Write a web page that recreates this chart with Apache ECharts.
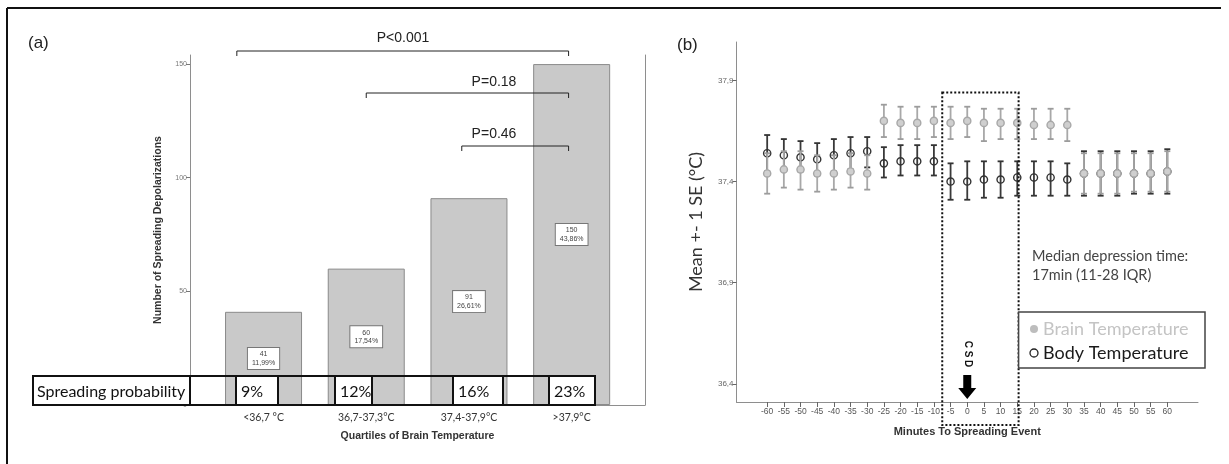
<!DOCTYPE html>
<html><head><meta charset="utf-8">
<script src="https://cdn.jsdelivr.net/npm/echarts@6/dist/echarts.min.js"></script>
<style>html,body{margin:0;padding:0;background:#fff}#c{width:1229px;height:464px}</style>
</head><body><div id="c"></div>
<script>
// ---------- Panel (a) data ----------
const quartiles = ['<36,7 °C', '36,7-37,3°C', '37,4-37,9°C', '>37,9°C'];
const sdCounts = [41, 60, 91, 150];
const sdPercents = ['11,99%', '17,54%', '26,61%', '43,86%'];
const spreadProb = ['9%', '12%', '16%', '23%'];
const countTicks = [0, 50, 100, 150];
const pValues = ['P<0.001', 'P=0.18', 'P=0.46'];

// ---------- Panel (b) data ----------
const minutes = [-60,-55,-50,-45,-40,-35,-30,-25,-20,-15,-10,-5,0,5,10,15,20,25,30,35,40,45,50,55,60];
const brainMean = [37.44,37.46,37.46,37.44,37.44,37.45,37.44,37.70,37.69,37.69,37.70,37.69,37.70,37.69,37.69,37.69,37.68,37.68,37.68,37.44,37.44,37.44,37.44,37.44,37.45];
const brainLow  = [37.34,37.37,37.36,37.35,37.36,37.37,37.36,37.62,37.61,37.61,37.62,37.61,37.62,37.60,37.61,37.61,37.61,37.61,37.60,37.34,37.34,37.34,37.35,37.35,37.35];
const brainHigh = [37.54,37.55,37.55,37.53,37.53,37.54,37.53,37.78,37.77,37.77,37.77,37.77,37.77,37.76,37.76,37.76,37.76,37.76,37.76,37.54,37.54,37.54,37.54,37.54,37.55];
const bodyMean  = [37.54,37.53,37.52,37.51,37.53,37.54,37.55,37.49,37.50,37.50,37.50,37.40,37.40,37.41,37.41,37.42,37.42,37.42,37.41,37.44,37.44,37.44,37.44,37.44,37.45];
const bodyLow   = [37.45,37.46,37.45,37.43,37.45,37.46,37.47,37.42,37.43,37.43,37.43,37.31,37.31,37.32,37.32,37.33,37.33,37.33,37.33,37.33,37.33,37.33,37.34,37.34,37.34];
const bodyHigh  = [37.63,37.61,37.60,37.59,37.61,37.62,37.62,37.57,37.58,37.58,37.58,37.49,37.50,37.50,37.50,37.50,37.50,37.50,37.49,37.55,37.55,37.55,37.55,37.55,37.56];
const tempTicks = [36.4, 36.9, 37.4, 37.9];
const csdWindow = [-7.5, 15.4];

const ARIAL = 'Liberation Sans, Arial, sans-serif';
const CALIBRI = 'Lato, Noto Sans, sans-serif';

function errRender(lineColor, capColor, fill, stroke) {
  return function (params, api) {
    const x = api.value(0), m = api.value(1), lo = api.value(2), hi = api.value(3);
    const pm = api.coord([x, m]), pl = api.coord([x, lo]), ph = api.coord([x, hi]);
    const cw = 3;
    return { type: 'group', children: [
      { type: 'line', shape: { x1: pm[0], y1: pl[1], x2: pm[0], y2: ph[1] }, style: { stroke: lineColor, lineWidth: 1.8 } },
      { type: 'line', shape: { x1: pm[0]-cw, y1: ph[1], x2: pm[0]+cw, y2: ph[1] }, style: { stroke: capColor, lineWidth: 1.8 } },
      { type: 'line', shape: { x1: pm[0]-cw, y1: pl[1], x2: pm[0]+cw, y2: pl[1] }, style: { stroke: capColor, lineWidth: 1.8 } },
      { type: 'circle', shape: { cx: pm[0], cy: pm[1], r: 3.6 }, style: { fill: fill, stroke: stroke, lineWidth: 1.4 } }
    ]};
  };
}

const chart = echarts.init(document.getElementById('c'), null, { renderer: 'canvas' });
const axisGray = '#8e8e8e';

const option = {
  animation: false,
  backgroundColor: '#fff',
  grid: [
    { left: 190, top: 55, width: 455, height: 350 },
    { left: 736.5, top: 42, width: 461.5, height: 360 }
  ],
  xAxis: [
    { type: 'value', gridIndex: 0, min: -0.716, max: 3.714,
      axisLine: { show: true, onZero: false, lineStyle: { color: axisGray, width: 1 } },
      axisTick: { show: false }, splitLine: { show: false },
      axisLabel: { customValues: [0, 1, 2, 3], formatter: v => quartiles[Math.round(v)], fontFamily: CALIBRI, fontSize: 10.5, color: '#333', margin: 7 },
      name: 'Quartiles of Brain Temperature', nameLocation: 'middle', nameGap: 26,
      nameTextStyle: { fontFamily: ARIAL, fontWeight: 'bold', fontSize: 10.5, color: '#333' } },
    { type: 'value', gridIndex: 1, min: -69.2, max: 69.2,
      axisLine: { show: true, onZero: false, lineStyle: { color: axisGray, width: 1 } },
      axisTick: { show: true, customValues: minutes, length: 5, lineStyle: { color: '#666' } },
      splitLine: { show: false },
      axisLabel: { customValues: minutes, fontFamily: ARIAL, fontSize: 8.5, color: '#555', margin: 5 },
      name: 'Minutes To Spreading Event', nameLocation: 'middle', nameGap: 24,
      nameTextStyle: { fontFamily: ARIAL, fontWeight: 'bold', fontSize: 11, color: '#333' } }
  ],
  yAxis: [
    { type: 'value', gridIndex: 0, min: 0, max: 154,
      axisLine: { show: true, onZero: false, lineStyle: { color: axisGray, width: 1 } },
      axisTick: { show: true, customValues: countTicks, length: 4, lineStyle: { color: '#777' } },
      splitLine: { show: false },
      axisLabel: { customValues: countTicks, fontFamily: ARIAL, fontSize: 7, color: '#777', margin: 3 },
      name: 'Number of Spreading Depolarizations', nameLocation: 'middle', nameGap: 26,
      nameTextStyle: { fontFamily: ARIAL, fontWeight: 'bold', fontSize: 10.5, color: '#333' } },
    { type: 'value', gridIndex: 0, min: 0, max: 154, position: 'right',
      axisLine: { show: true, onZero: false, lineStyle: { color: axisGray, width: 1 } },
      axisTick: { show: false }, axisLabel: { show: false }, splitLine: { show: false } },
    { type: 'value', gridIndex: 1, min: 36.31, max: 38.09,
      axisLine: { show: true, onZero: false, lineStyle: { color: axisGray, width: 1 } },
      axisTick: { show: true, customValues: tempTicks, length: 4, lineStyle: { color: '#666' } },
      splitLine: { show: false },
      axisLabel: { customValues: tempTicks, formatter: v => v.toFixed(1).replace('.', ','), fontFamily: ARIAL, fontSize: 8, color: '#666', margin: 3 },
      name: 'Mean +- 1 SE (°C)', nameLocation: 'middle', nameGap: 31,
      nameTextStyle: { fontFamily: CALIBRI, fontSize: 18, color: '#333' } }
  ],
  series: [
    { type: 'bar', xAxisIndex: 0, yAxisIndex: 0, barWidth: 77, z: 2,
      data: sdCounts.map((v, i) => [i, v]),
      itemStyle: { color: '#c9c9c9', borderColor: '#8a8a8a', borderWidth: 1 },
      label: { show: true, position: 'inside',
        formatter: p => sdCounts[p.dataIndex] + '\n' + sdPercents[p.dataIndex],
        fontFamily: ARIAL, fontSize: 7, lineHeight: 8.5, color: '#444', align: 'center',
        backgroundColor: '#fff', borderColor: '#777', borderWidth: 1, padding: [2, 4] } },
    { type: 'custom', name: 'Body Temperature', xAxisIndex: 1, yAxisIndex: 2, z: 3,
      renderItem: errRender('#3a3a3a', '#333', 'rgba(0,0,0,0)', '#333'),
      data: minutes.map((m, i) => [m, bodyMean[i], bodyLow[i], bodyHigh[i]]) },
    { type: 'custom', name: 'Brain Temperature', xAxisIndex: 1, yAxisIndex: 2, z: 4,
      renderItem: errRender('#a8a8a8', '#9c9c9c', '#cfcfcf', '#a8a8a8'),
      data: minutes.map((m, i) => [m, brainMean[i], brainLow[i], brainHigh[i]]) }
  ]
};
chart.setOption(option);

// ---------- Annotations (computed from the axes where tied to data) ----------
const px0 = (x, y) => chart.convertToPixel({ gridIndex: 0 }, [x, y]);
const px1 = (x, y) => chart.convertToPixel({ gridIndex: 1 }, [x, y]);
const g = [];

// outer frame (top + left)
g.push({ type: 'line', shape: { x1: 7, y1: 8, x2: 1221, y2: 8 }, style: { stroke: '#111', lineWidth: 2 } });
g.push({ type: 'line', shape: { x1: 7, y1: 8, x2: 7, y2: 464 }, style: { stroke: '#111', lineWidth: 2 } });

g.push({ type: 'text', x: 28, y: 43, style: { text: '(a)', font: '17px ' + ARIAL, fill: '#222', verticalAlign: 'middle' } });
g.push({ type: 'text', x: 677, y: 45, style: { text: '(b)', font: '17px ' + ARIAL, fill: '#222', verticalAlign: 'middle' } });

// significance brackets
const brackets = [
  { from: -0.26, to: 2.97, y: 51, tx: 403, ty: 38, label: pValues[0] },
  { from: 1.0, to: 2.97, y: 93, tx: 494, ty: 82, label: pValues[1] },
  { from: 1.93, to: 2.97, y: 146, tx: 494, ty: 134, label: pValues[2] }
];
brackets.forEach(b => {
  const xa = px0(b.from, 0)[0], xb = px0(b.to, 0)[0];
  g.push({ type: 'polyline', z: 10, shape: { points: [[xa, b.y + 5], [xa, b.y], [xb, b.y], [xb, b.y + 5]] }, style: { stroke: '#222', lineWidth: 1, fill: null } });
  g.push({ type: 'text', z: 10, x: b.tx, y: b.ty, style: { text: b.label, font: '14px ' + ARIAL, fill: '#222', align: 'center', verticalAlign: 'middle' } });
});

// spreading probability table
const tTop = 376, tBot = 405;
const cols = [33, 190, 236, 278, 335, 372, 453, 503, 549, 595];
g.push({ type: 'rect', z: 20, shape: { x: cols[0], y: tTop, width: cols[1] - cols[0], height: tBot - tTop }, style: { fill: '#fff', stroke: null } });
for (let k = 0; k < 4; k++) {
  const a = cols[2 + 2 * k], b = cols[3 + 2 * k];
  g.push({ type: 'rect', z: 20, shape: { x: a, y: tTop, width: b - a, height: tBot - tTop }, style: { fill: '#fff', stroke: null } });
  g.push({ type: 'text', z: 22, x: a + 5, y: (tTop + tBot) / 2 + 1, style: { text: spreadProb[k], font: '16px ' + CALIBRI, fill: '#111', verticalAlign: 'middle' } });
}
g.push({ type: 'rect', z: 21, shape: { x: cols[0], y: tTop, width: cols[cols.length - 1] - cols[0], height: tBot - tTop }, style: { fill: null, stroke: '#111', lineWidth: 2 } });
cols.slice(1, -1).forEach(c => g.push({ type: 'line', z: 21, shape: { x1: c, y1: tTop, x2: c, y2: tBot }, style: { stroke: '#111', lineWidth: 2 } }));
g.push({ type: 'text', z: 22, x: 37, y: (tTop + tBot) / 2 + 1, style: { text: 'Spreading probability', font: '16px ' + CALIBRI, fill: '#111', verticalAlign: 'middle' } });

// CSD window (dotted box)
const wl = px1(csdWindow[0], 37.84), wr = px1(csdWindow[1], 37.84);
g.push({ type: 'rect', z: 15, shape: { x: wl[0], y: wl[1], width: wr[0] - wl[0], height: 425 - wl[1] }, style: { fill: null, stroke: '#111', lineWidth: 2, lineDash: [2, 2] } });

// arrow at 0 and CSD label
const ax = px1(0, 36.4)[0];
g.push({ type: 'polygon', z: 15, shape: { points: [[ax - 4, 375], [ax + 4, 375], [ax + 4, 388], [ax + 9, 388], [ax, 399], [ax - 9, 388], [ax - 4, 388]] }, style: { fill: '#000' } });
g.push({ type: 'text', z: 15, x: ax, y: 354, rotation: -Math.PI / 2, style: { text: 'C S D', font: 'bold 10px ' + ARIAL, fill: '#111', align: 'center', verticalAlign: 'middle' } });

// median text
g.push({ type: 'text', x: 1032, y: 256, style: { text: 'Median depression time:', font: '14.5px ' + CALIBRI, fill: '#444', verticalAlign: 'middle' } });
g.push({ type: 'text', x: 1032, y: 275, style: { text: '17min (11-28 IQR)', font: '14.5px ' + CALIBRI, fill: '#444', verticalAlign: 'middle' } });

// legend
g.push({ type: 'rect', z: 16, shape: { x: wr[0], y: 312, width: 1205 - wr[0], height: 56 }, style: { fill: '#fff', stroke: '#444', lineWidth: 1.5 } });
g.push({ type: 'circle', z: 17, shape: { cx: 1034, cy: 329, r: 4 }, style: { fill: '#bdbdbd', stroke: null } });
g.push({ type: 'text', z: 17, x: 1043, y: 329, style: { text: 'Brain Temperature', font: '18px ' + CALIBRI, fill: '#c4c4c4', verticalAlign: 'middle' } });
g.push({ type: 'circle', z: 17, shape: { cx: 1034, cy: 353, r: 4 }, style: { fill: '#fff', stroke: '#222', lineWidth: 1.3 } });
g.push({ type: 'text', z: 17, x: 1043, y: 353, style: { text: 'Body Temperature', font: '18px ' + CALIBRI, fill: '#1a1a1a', verticalAlign: 'middle' } });

chart.setOption({ graphic: { elements: g } });
</script></body></html>
